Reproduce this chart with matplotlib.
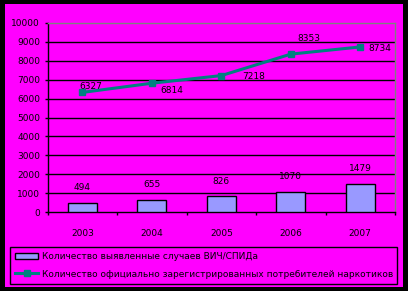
import numpy as np
import matplotlib.pyplot as plt
from matplotlib.patches import Rectangle

# Data
years = ["2003", "2004", "2005", "2006", "2007"]
hiv_cases = [494, 655, 826, 1070, 1479]
drug_users = [6327, 6814, 7218, 8353, 8734]
yticks = [0, 1000, 2000, 3000, 4000, 5000, 6000, 7000, 8000, 9000, 10000]

hiv_label = "Количество выявленные случаев ВИЧ/СПИДа"
drug_label = "Количество официально зарегистрированных потребителей наркотиков"

# label offsets for the line values (points)
line_offsets = [(6, 4), (14, -5), (23, -1), (13, 11), (14, -1)]

W, H = 408, 291
fig = plt.figure(figsize=(W / 100, H / 100), dpi=100, facecolor="black")
fig.patches.append(Rectangle((5 / W, 4 / H), 398 / W, 283 / H,
                             transform=fig.transFigure, facecolor="#FF00FF",
                             edgecolor="none", zorder=-10))

ax = fig.add_axes([47.7 / W, (H - 212) / H, (395 - 47.7) / W, (212 - 23) / H])
ax.set_facecolor("#FF00FF")

x = np.arange(len(years))
bars = ax.bar(x, hiv_cases, width=0.42, color="#9999FF", edgecolor="black",
              linewidth=1, zorder=3, label=hiv_label)
line, = ax.plot(x, drug_users, color="#008080", lw=2.2, marker="s",
                markersize=5, zorder=4, label=drug_label)

fs = 6.5
for xi, v in zip(x, hiv_cases):
    ax.annotate(str(v), (xi, v), xytext=(0, 11), textcoords="offset points",
                ha="center", va="center", fontsize=fs)
for xi, v, off in zip(x, drug_users, line_offsets):
    ax.annotate(str(v), (xi, v), xytext=off, textcoords="offset points",
                ha="center", va="center", fontsize=fs)

ax.set_xlim(-0.5, 4.5)
ax.set_ylim(0, 10000)
ax.set_yticks(yticks)
ax.set_yticklabels([str(t) for t in yticks], fontsize=fs)
ax.set_xticks(x)
ax.set_xticklabels(years, fontsize=fs)
ax.set_xticks(np.arange(-0.5, 5, 1), minor=True)
ax.tick_params(axis="x", which="major", length=0, pad=12)
ax.tick_params(axis="x", which="minor", length=2.5, width=1)
ax.tick_params(axis="y", length=2.5, width=1, pad=3)

for t in yticks[1:-1]:
    ax.axhline(t, color="black", lw=1, zorder=1)

for s in ["top", "right"]:
    ax.spines[s].set_color("#808080")
    ax.spines[s].set_linewidth(1)
for s in ["left", "bottom"]:
    ax.spines[s].set_color("black")
    ax.spines[s].set_linewidth(1)

leg = fig.legend(handles=[bars, line], labels=[hiv_label, drug_label],
                 loc="lower left", mode="expand",
                 bbox_to_anchor=(10 / W, (H - 284) / H, 387 / W, 37 / H),
                 fontsize=fs, frameon=True, fancybox=False, edgecolor="black",
                 facecolor="#FF00FF", framealpha=1, handlelength=2.5,
                 handletextpad=0.4, labelspacing=0.9, borderpad=0.6,
                 borderaxespad=0)
leg.get_frame().set_linewidth(1)

fig.savefig("out.png", dpi=100, facecolor="black")
